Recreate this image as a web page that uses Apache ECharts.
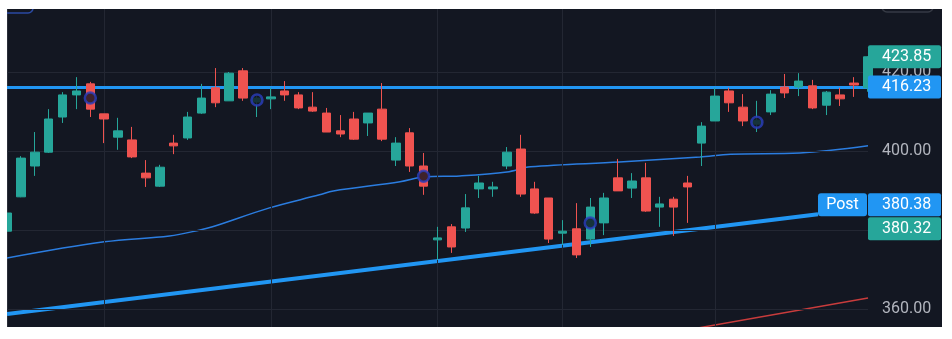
<!DOCTYPE html>
<html><head><meta charset="utf-8">
<script src="https://cdn.jsdelivr.net/npm/echarts@6/dist/echarts.min.js"></script>
<style>
html,body{margin:0;padding:0;background:#ffffff;width:952px;height:339px;overflow:hidden;position:relative}
#c{position:absolute;left:7px;top:9px;width:935px;height:318px;background:#131722}
</style></head><body><div id="c"></div>
<script>
// ---- data ----
const opens  = [379.7,388.4,396.2,399.7,408.6,414.2,417.0,409.4,403.5,402.8,394.4,391.1,402.0,403.3,409.6,416.0,412.7,420.3,412.4,413.2,415.2,414.2,411.1,409.6,405.1,408.1,407.1,410.6,397.7,404.6,396.2,377.5,380.8,380.5,390.4,390.4,396.2,400.5,390.4,388.1,379.2,380.3,377.7,381.8,393.2,390.6,393.2,385.8,387.8,391.9,402.0,407.6,415.2,411.1,406.8,409.9,416.2,416.2,416.5,411.6,414.2,417.2,416.0];
const closes = [384.3,398.2,399.7,408.1,414.2,415.2,410.6,408.1,405.1,398.5,393.2,395.9,401.3,408.6,413.4,412.2,419.7,413.4,413.4,413.7,414.2,410.9,410.1,404.8,404.3,403.0,409.6,403.0,402.0,396.2,391.1,378.0,375.7,385.6,391.9,390.9,399.7,389.1,384.3,377.7,379.7,373.7,385.8,388.1,389.9,392.4,384.8,386.6,385.8,390.9,406.3,413.9,412.2,407.6,407.8,414.4,414.7,417.7,410.9,414.9,413.2,416.7,423.85];
const lows   = [379.2,388.3,393.7,399.5,407.1,410.6,408.6,402.0,400.3,398.2,390.9,390.9,399.2,402.8,409.4,411.1,412.7,412.7,408.6,410.6,412.7,410.6,409.9,404.8,403.5,402.8,403.8,402.5,396.2,394.7,388.9,372.4,374.2,379.5,388.1,388.4,395.4,388.4,384.1,376.7,376.2,372.9,375.7,378.7,389.9,388.1,384.6,380.8,378.5,381.8,396.2,407.6,409.9,406.3,404.8,409.1,413.4,413.9,410.6,409.1,411.4,413.7,415.0];
const highs  = [384.8,398.7,404.8,410.6,414.9,418.7,417.5,409.4,408.4,406.1,397.7,396.5,404.1,409.9,417.0,421.0,420.0,421.0,413.9,416.0,417.7,414.9,414.9,410.9,409.1,409.9,409.6,417.2,403.5,405.8,399.5,380.8,381.5,389.1,393.7,392.2,401.0,404.1,392.2,388.1,382.5,386.8,388.1,389.4,398.0,394.4,397.0,388.4,388.4,393.7,407.3,416.0,416.0,414.4,412.7,415.4,419.5,419.7,418.0,415.2,416.0,418.7,424.0];

const maIdx  = [0, 7, 11.7, 13.9, 14.8, 18.9, 22.5, 23.5, 28.3, 30.0, 32.6, 36.0, 37.7, 44.1, 49.9, 52.1, 57.1, 62];
const maVals = [372.9, 377.0, 378.5, 380.0, 380.8, 385.6, 388.9, 389.9, 392.2, 393.4, 393.7, 394.7, 396.0, 397.2, 398.5, 399.2, 399.5, 401.3];

const trendIdx  = [0, 58.4];
const trendVals = [358.7, 384.0];

const redIdx  = [48, 62];
const redVals = [354.1, 362.8];

const markerIdx  = [6, 18, 30, 42, 54];
const markerVals = [413.4, 412.9, 393.6, 381.8, 407.3];

const gridCols  = [7, 19, 31, 40, 51];
const yTicks    = [360, 380, 400, 420];
const yMin = 355.44, yMax = 435.95;
const levelLine = 416.23;
const lastPrice = 423.85;
const postPrice = 380.38;
const closePrice = 380.32;

const GREEN = '#26a69a', RED = '#ef5350', BLUE = '#2196f3';

const chart = echarts.init(document.getElementById('c'));
const candleData = opens.map((o, i) => [i, o, closes[i], lows[i], highs[i]]);

const option = {
  animation: false,
  backgroundColor: 'transparent',
  grid: { left: 0, right: 74, top: 0, bottom: 0, containLabel: false },
  xAxis: {
    type: 'value', min: 0, max: candleData.length - 1,
    axisLine: { show: false }, axisTick: { show: false }, axisLabel: { show: false }, splitLine: { show: false }
  },
  yAxis: {
    type: 'value', position: 'right', min: yMin, max: yMax,
    axisLine: { show: true, lineStyle: { color: '#2a2e39', width: 1 } },
    axisTick: { show: false }, axisLabel: { show: false }, splitLine: { show: false }
  },
  series: [
    {
      type: 'line', data: [], z: 1, silent: true,
      markLine: {
        silent: true, symbol: 'none',
        lineStyle: { color: '#232733', width: 1, type: 'solid' },
        data: gridCols.map(k => ({ xAxis: k, label: { show: false } }))
          .concat(yTicks.map(v => ({ yAxis: v,
            label: { show: true, position: 'end', distance: 14, color: '#b2b5be', fontSize: 16, fontFamily: 'Roboto',
                     formatter: () => v.toFixed(2) } })))
      }
    },
    {
      type: 'line', name: 'MA', z: 2, smooth: 0.35, showSymbol: false, silent: true,
      data: maIdx.map((k, i) => [k, maVals[i]]),
      lineStyle: { color: '#2b7de0', width: 1.5 }
    },
    {
      type: 'line', name: 'MA2', z: 2, showSymbol: false, silent: true,
      data: redIdx.map((k, i) => [k, redVals[i]]),
      lineStyle: { color: '#c93c3c', width: 1.5 }
    },
    {
      type: 'line', name: 'trend', z: 3, showSymbol: false, silent: true,
      data: trendIdx.map((k, i) => [k, trendVals[i]]),
      lineStyle: { color: BLUE, width: 4 },
      markLine: {
        silent: true, symbol: 'none', label: { show: false },
        lineStyle: { color: BLUE, width: 3, type: 'solid' },
        data: [{ yAxis: levelLine }]
      }
    },
    {
      type: 'candlestick', name: 'price', z: 5, barWidth: 9,
      encode: { x: 0, y: [1, 2, 3, 4] },
      data: candleData,
      itemStyle: { color: GREEN, color0: RED, borderColor: GREEN, borderColor0: RED, borderWidth: 1 }
    },
    {
      type: 'scatter', name: 'events', z: 6, symbol: 'circle', symbolSize: 11, silent: true,
      data: markerIdx.map((k, i) => [k, markerVals[i]]),
      itemStyle: { color: '#131722', borderColor: '#2a3fbf', borderWidth: 2.5 }
    }
  ]
};
chart.setOption(option);

function py(v) { return chart.convertToPixel({ gridIndex: 0 }, [0, v])[1]; }
const axisX = chart.convertToPixel({ gridIndex: 0 }, [candleData.length - 1, yMin])[0];
const H = 23, W = 73;
const tags = [
  { text: lastPrice.toFixed(2), cy: py(lastPrice), color: GREEN },
  { text: levelLine.toFixed(2), cy: py(levelLine), color: BLUE },
  { text: closePrice.toFixed(2), cy: py(closePrice), color: GREEN },
  { text: postPrice.toFixed(2), cy: py(closePrice) - 24, color: BLUE }
];
const g = [];
tags.forEach(t => {
  g.push({ type: 'rect', z: 100, shape: { x: axisX, y: t.cy - H / 2, width: W, height: H, r: 2 }, style: { fill: t.color } });
  g.push({ type: 'text', z: 101, x: axisX + 14, y: t.cy,
    style: { text: t.text, fill: '#ffffff', font: '16px Roboto', textVerticalAlign: 'middle', verticalAlign: 'middle' } });
});
const postCy = py(closePrice) - 24;
g.push({ type: 'rect', z: 100, shape: { x: axisX - 50, y: postCy - H / 2, width: 49, height: H, r: 3 }, style: { fill: BLUE } });
g.push({ type: 'text', z: 101, x: axisX - 25.5, y: postCy,
  style: { text: 'Post', fill: '#ffffff', font: '16px Roboto', textAlign: 'center', align: 'center', textVerticalAlign: 'middle', verticalAlign: 'middle' } });
// partial toolbar widgets at the top edge
g.push({ type: 'rect', z: 100, shape: { x: -10, y: -30, width: 36, height: 34, r: 5 }, style: { fill: 'none', stroke: '#2b4aa3', lineWidth: 1.5 } });
g.push({ type: 'rect', z: 100, shape: { x: 875, y: -30, width: 51, height: 33, r: 5 }, style: { fill: 'none', stroke: '#363a45', lineWidth: 1.5 } });
chart.setOption({ graphic: g });
</script></body></html>
